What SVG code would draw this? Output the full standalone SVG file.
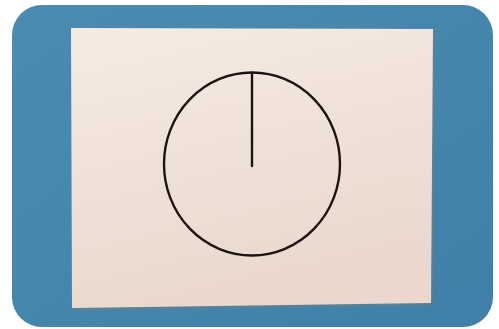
<svg xmlns="http://www.w3.org/2000/svg" width="499" height="329" viewBox="0 0 499 329">
<defs>
<linearGradient id="paper" x1="0" y1="0" x2="0.3" y2="1">
<stop offset="0" stop-color="#f6ebe3"/>
<stop offset="1" stop-color="#ead8ce"/>
</linearGradient>
<linearGradient id="bg" x1="0" y1="0" x2="1" y2="1">
<stop offset="0" stop-color="#4a8cb1"/>
<stop offset="1" stop-color="#3f80a8"/>
</linearGradient>
</defs>
<style>.ink{fill:none;stroke:#1a1414;stroke-width:2.4;stroke-linecap:round}</style>
<rect width="499" height="329" fill="#ffffff"/>
<rect x="12" y="5" width="481" height="322" rx="30" ry="30" fill="url(#bg)"/>
<g id="paper-sheet">
<polygon points="72,29 434,30 432,304 73,309" fill="#8a7a74" opacity="0.35" transform="translate(1,1.5)"/>
<polygon points="71,28 433,29 431,303 72,308" fill="url(#paper)"/>
</g>
<g id="circle">
<ellipse class="ink" cx="252" cy="164" rx="88" ry="91.5"/>
<line class="ink" x1="252" y1="73" x2="252" y2="166"/>
</g>
</svg>
